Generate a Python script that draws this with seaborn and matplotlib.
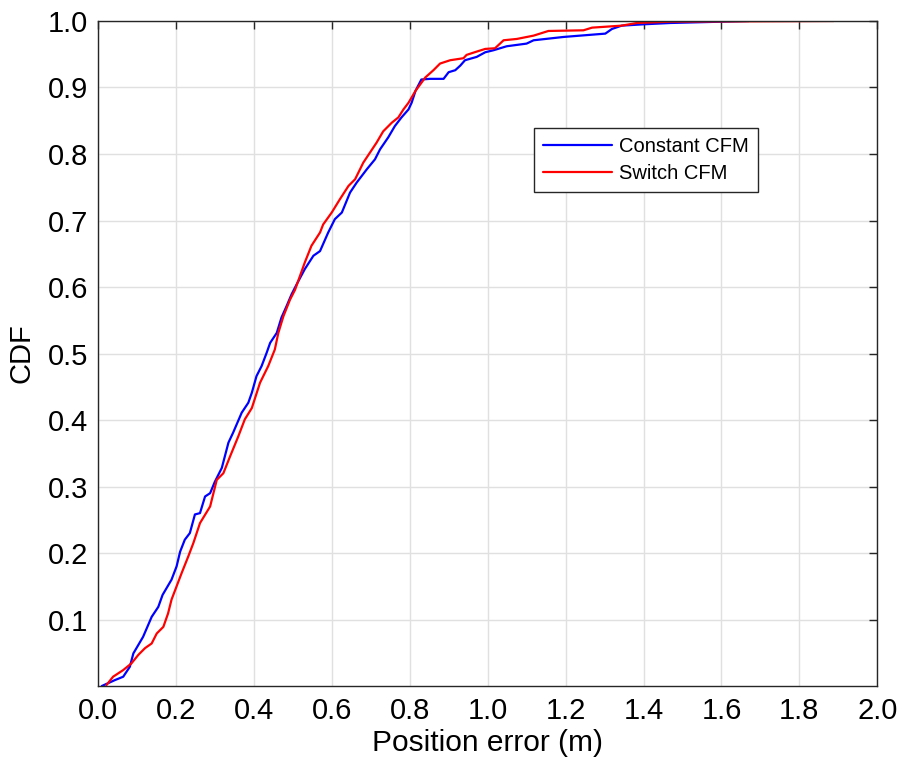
import pandas as pd
import matplotlib
matplotlib.use('Agg')
import matplotlib.pyplot as plt
import seaborn as sns

# CDF curves (position error in m, cumulative share)
constant_x = [0.010, 0.044, 0.065, 0.082, 0.091, 0.116, 0.138, 0.155, 0.166, 0.189,
              0.202, 0.211, 0.223, 0.236, 0.249, 0.262, 0.275, 0.288, 0.300, 0.318,
              0.335, 0.347, 0.369, 0.386, 0.395, 0.407, 0.420, 0.433, 0.442, 0.459,
              0.471, 0.484, 0.497, 0.510, 0.531, 0.553, 0.570, 0.591, 0.608, 0.626,
              0.647, 0.664, 0.690, 0.711, 0.724, 0.745, 0.762, 0.779, 0.797, 0.805,
              0.815, 0.830, 0.852, 0.887, 0.900, 0.917, 0.930, 0.942, 0.972, 0.994,
              1.015, 1.049, 1.100, 1.118, 1.195, 1.302, 1.319, 1.344, 1.400, 1.469,
              1.670]
constant_cdf = [0.0, 0.009, 0.014, 0.029, 0.049, 0.074, 0.104, 0.119, 0.137, 0.160,
                0.180, 0.202, 0.220, 0.230, 0.258, 0.260, 0.285, 0.290, 0.307, 0.328,
                0.366, 0.381, 0.411, 0.426, 0.441, 0.466, 0.481, 0.501, 0.516, 0.531,
                0.554, 0.571, 0.589, 0.604, 0.627, 0.647, 0.654, 0.682, 0.702, 0.712,
                0.742, 0.757, 0.777, 0.792, 0.807, 0.825, 0.842, 0.855, 0.867, 0.877,
                0.895, 0.912, 0.913, 0.913, 0.923, 0.926, 0.933, 0.941, 0.946, 0.953,
                0.956, 0.962, 0.966, 0.971, 0.976, 0.981, 0.988, 0.993, 0.995, 0.997,
                1.0]

switch_x = [0.022, 0.039, 0.065, 0.086, 0.104, 0.121, 0.138, 0.151, 0.168, 0.180,
            0.189, 0.202, 0.215, 0.232, 0.245, 0.262, 0.288, 0.305, 0.322, 0.339,
            0.360, 0.377, 0.395, 0.416, 0.437, 0.454, 0.463, 0.476, 0.493, 0.506,
            0.531, 0.548, 0.570, 0.578, 0.600, 0.621, 0.643, 0.660, 0.681, 0.698,
            0.715, 0.732, 0.754, 0.771, 0.784, 0.797, 0.815, 0.840, 0.861, 0.878,
            0.904, 0.938, 0.946, 0.972, 0.994, 1.019, 1.041, 1.075, 1.118, 1.156,
            1.246, 1.268, 1.344, 1.383, 1.469, 1.888]
switch_cdf = [0.0015, 0.014, 0.024, 0.034, 0.047, 0.057, 0.064, 0.079, 0.089, 0.109,
              0.130, 0.150, 0.170, 0.195, 0.215, 0.245, 0.270, 0.310, 0.320, 0.345,
              0.375, 0.401, 0.418, 0.456, 0.481, 0.506, 0.531, 0.556, 0.581, 0.596,
              0.637, 0.662, 0.682, 0.694, 0.712, 0.732, 0.752, 0.762, 0.787, 0.802,
              0.817, 0.834, 0.847, 0.855, 0.867, 0.877, 0.895, 0.915, 0.926, 0.936,
              0.941, 0.944, 0.949, 0.954, 0.958, 0.959, 0.971, 0.973, 0.978, 0.985,
              0.986, 0.990, 0.993, 0.997, 0.999, 1.0]

x_ticks = [0.0, 0.2, 0.4, 0.6, 0.8, 1.0, 1.2, 1.4, 1.6, 1.8, 2.0]
y_ticks = [0.1, 0.2, 0.3, 0.4, 0.5, 0.6, 0.7, 0.8, 0.9, 1.0]

df = pd.concat([
    pd.DataFrame({'err': constant_x, 'cdf': constant_cdf, 'method': 'Constant CFM'}),
    pd.DataFrame({'err': switch_x, 'cdf': switch_cdf, 'method': 'Switch CFM'}),
], ignore_index=True)

sns.set_theme(style="whitegrid")
plt.rcParams['font.family'] = ['Liberation Sans', 'DejaVu Sans']

fig = plt.figure(figsize=(8.98, 7.66), dpi=100)
ax = fig.add_axes([0.109, 0.1044, 0.868, 0.8682])

sns.lineplot(data=df, x='err', y='cdf', hue='method', estimator=None, sort=False,
             palette={'Constant CFM': '#0000ff', 'Switch CFM': '#ff0000'},
             linewidth=1.6, ax=ax)

ax.set_xlim(0, 2.0)
ax.set_ylim(0, 1.0)
ax.set_xticks(x_ticks)
ax.set_xticklabels([f'{t:.1f}' for t in x_ticks])
ax.set_yticks(y_ticks)
ax.set_yticklabels([f'{t:.1f}' for t in y_ticks])
ax.tick_params(direction='in', length=6, width=1, colors='#262626',
               labelsize=21, top=True, right=True, labelcolor='black')
ax.tick_params(axis='x', pad=8)
ax.tick_params(axis='y', pad=7)
ax.grid(True, color='#e0e0e0', linewidth=1.0)
for s in ax.spines.values():
    s.set_color('#262626')
    s.set_linewidth(1.0)

ax.set_xlabel('Position error (m)', fontsize=21.5, color='black', labelpad=3)
ax.set_ylabel('CDF', fontsize=21, color='black', labelpad=9)

leg = ax.legend(loc='upper left', bbox_to_anchor=(0.5597, 0.839), fontsize=14.5,
                frameon=True, fancybox=False, handlelength=3.4, handletextpad=0.35,
                borderpad=0.45, labelspacing=0.4, borderaxespad=0)
leg.get_frame().set_edgecolor('#262626')
leg.get_frame().set_linewidth(1.0)
leg.get_frame().set_alpha(1)
for t in leg.get_texts():
    t.set_color('black')

fig.savefig('out.png', dpi=100)
